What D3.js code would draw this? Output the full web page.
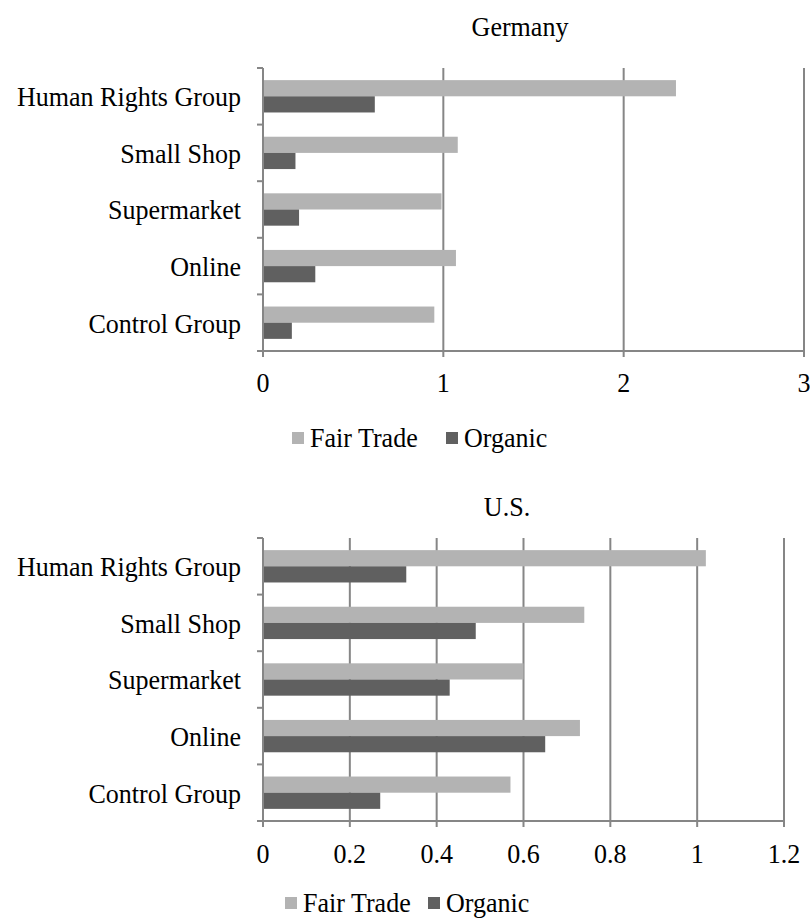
<!DOCTYPE html>
<html>
<head>
<meta charset="utf-8">
<script src="https://cdn.jsdelivr.net/npm/d3@7/dist/d3.min.js"></script>
<style>
  html, body { margin: 0; padding: 0; background: #fff; }
  svg { display: block; }
</style>
</head>
<body>
<div id="chart"></div>
<script>
// Categories, top to bottom
const categories = ["Human Rights Group", "Small Shop", "Supermarket", "Online", "Control Group"];
const seriesNames = ["Fair Trade", "Organic"];
const seriesColors = ["#b3b3b3", "#606060"];

// Germany
const germanyFairTrade = [2.29, 1.08, 0.99, 1.07, 0.95];
const germanyOrganic   = [0.62, 0.18, 0.20, 0.29, 0.16];
const germanyTicks = [0, 1, 2, 3];

// U.S.
const usFairTrade = [1.02, 0.74, 0.60, 0.73, 0.57];
const usOrganic   = [0.33, 0.49, 0.43, 0.65, 0.27];
const usTicks = [0, 0.2, 0.4, 0.6, 0.8, 1, 1.2];

const W = 810, H = 921;
const fontFamily = "'Liberation Serif', 'Times New Roman', Times, 'DejaVu Serif', serif";
const svg = d3.select("#chart").append("svg")
  .attr("width", W).attr("height", H)
  .attr("font-family", fontFamily);

const gridColor = "#868686";
const fontSize = 28;
const squeeze = 0.93;   // slightly condensed type

// Text placed at (x, y) with a horizontal squeeze applied around its anchor
function label(parent, x, y, str, anchor) {
  const g = parent.append("g").attr("transform", `translate(${x},${y}) scale(${squeeze},1)`);
  return g.append("text")
    .attr("x", 0).attr("y", 0)
    .attr("dy", "0.35em")
    .attr("text-anchor", anchor || "start")
    .attr("font-family", fontFamily)
    .attr("font-size", fontSize)
    .attr("fill", "#000")
    .text(str);
}

function drawPanel(opt) {
  const { title, titleX, titleY, fair, organic, ticks, left, right, top, bottom, tickLabelY, legendX, legendY, legendGap } = opt;
  const g = svg.append("g");

  const x = d3.scaleLinear().domain([ticks[0], ticks[ticks.length - 1]]).range([left, right]);
  const y = d3.scaleBand().domain(categories).range([top, bottom]).paddingInner(0).paddingOuter(0);
  const inner = d3.scaleBand().domain(seriesNames).range([0, y.bandwidth()]).paddingInner(0).paddingOuter(0.75);

  // title
  label(g, titleX, titleY, title, "middle");

  // vertical gridlines
  g.selectAll("line.grid").data(ticks.slice(1)).join("line")
    .attr("class", "grid")
    .attr("x1", d => x(d)).attr("x2", d => x(d))
    .attr("y1", top).attr("y2", bottom + 6)
    .attr("stroke", gridColor).attr("stroke-width", 2);

  // bars
  const rows = categories.map((c, i) => ({ cat: c, values: [fair[i], organic[i]] }));
  const rowG = g.selectAll("g.row").data(rows).join("g")
    .attr("transform", d => `translate(0,${y(d.cat)})`);
  rowG.selectAll("rect").data(d => d.values.map((v, j) => ({ v, s: seriesNames[j], c: seriesColors[j] })))
    .join("rect")
    .attr("x", x(0))
    .attr("y", d => inner(d.s))
    .attr("width", d => x(d.v) - x(0))
    .attr("height", inner.bandwidth())
    .attr("fill", d => d.c);

  // y axis line with ticks at category boundaries
  g.append("line").attr("x1", left).attr("x2", left).attr("y1", top).attr("y2", bottom + 6)
    .attr("stroke", gridColor).attr("stroke-width", 2);
  const bounds = categories.map(c => y(c)).concat([bottom]);
  g.selectAll("line.ytick").data(bounds).join("line")
    .attr("x1", left - 6).attr("x2", left)
    .attr("y1", d => d).attr("y2", d => d)
    .attr("stroke", gridColor).attr("stroke-width", 2);

  // x axis line
  g.append("line").attr("x1", left - 6).attr("x2", right).attr("y1", bottom).attr("y2", bottom)
    .attr("stroke", gridColor).attr("stroke-width", 2);

  // category labels
  categories.forEach(c => label(g, left - 22, y(c) + y.bandwidth() / 2, c, "end"));

  // tick labels
  ticks.forEach(t => label(g, x(t), tickLabelY, d3.format("~g")(t), "middle"));

  // legend
  const lg = g.append("g").attr("transform", `translate(${legendX},${legendY})`);
  const offsets = [0, legendGap];
  seriesNames.forEach((s, i) => {
    lg.append("rect").attr("x", offsets[i]).attr("y", -5).attr("width", 12).attr("height", 12).attr("fill", seriesColors[i]);
    label(lg, offsets[i] + 18, 0, s, "start");
  });
}

drawPanel({
  title: "Germany", titleX: 520, titleY: 26,
  fair: germanyFairTrade, organic: germanyOrganic, ticks: germanyTicks,
  left: 263, right: 804, top: 68, bottom: 351,
  tickLabelY: 382, legendX: 292, legendY: 437, legendGap: 154
});

drawPanel({
  title: "U.S.", titleX: 507, titleY: 506,
  fair: usFairTrade, organic: usOrganic, ticks: usTicks,
  left: 263, right: 784, top: 538, bottom: 821,
  tickLabelY: 853, legendX: 285, legendY: 902, legendGap: 143
});
</script>
</body>
</html>
